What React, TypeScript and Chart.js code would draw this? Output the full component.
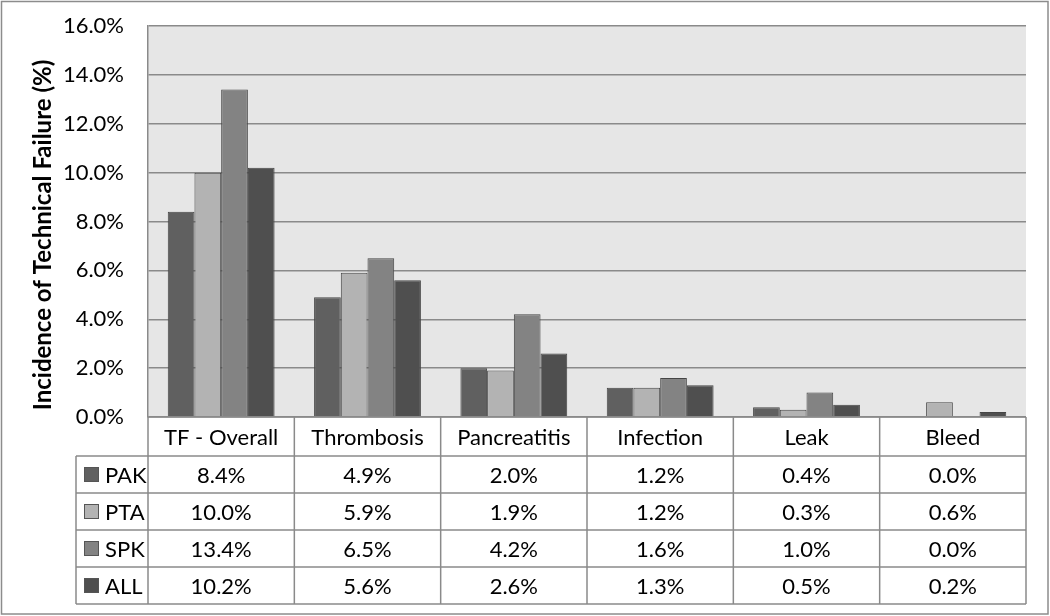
import React, { useEffect, useRef } from 'react';
import { Chart, registerables } from 'chart.js';

Chart.register(...registerables);

const categories = ['TF - Overall', 'Thrombosis', 'Pancreatitis', 'Infection', 'Leak', 'Bleed'];
const seriesNames = ['PAK', 'PTA', 'SPK', 'ALL'];
const pakValues = [8.4, 4.9, 2.0, 1.2, 0.4, 0.0];
const ptaValues = [10.0, 5.9, 1.9, 1.2, 0.3, 0.6];
const spkValues = [13.4, 6.5, 4.2, 1.6, 1.0, 0.0];
const allValues = [10.2, 5.6, 2.6, 1.3, 0.5, 0.2];
const seriesColors = ['#606060', '#b3b3b3', '#838383', '#4f4f4f'];
const yAxisTitle = 'Incidence of Technical Failure (%)';
const yMin = 0;
const yMax = 16;
const yStep = 2;

const FONT = 'Lato, "Open Sans", sans-serif';
const LINE = '#8a8a8a';

const seriesValues = [pakValues, ptaValues, spkValues, allValues];

const tablePlugin = {
  id: 'dataTable',
  beforeDraw(chart: any) {
    const { ctx, chartArea } = chart;
    ctx.save();
    ctx.fillStyle = '#e6e6e6';
    ctx.fillRect(chartArea.left, chartArea.top, chartArea.right - chartArea.left, chartArea.bottom - chartArea.top);
    ctx.restore();
  },
  afterDraw(chart: any) {
    const { ctx, chartArea } = chart;
    const xScale = chart.scales.x;
    const n = categories.length;
    const colW = (chartArea.right - chartArea.left) / n;
    const top = chartArea.bottom;
    const headerH = 39;
    const rowH = 37;
    const legendLeft = 76;
    const rows = seriesNames.length;
    const bottom = top + headerH + rowH * rows;

    ctx.save();
    ctx.strokeStyle = LINE;
    ctx.lineWidth = 1.5;
    ctx.beginPath();
    ctx.moveTo(chartArea.left, top);
    ctx.lineTo(chartArea.right, top);
    for (let r = 0; r <= rows; r++) {
      const y = top + headerH + r * rowH;
      ctx.moveTo(legendLeft, y);
      ctx.lineTo(chartArea.right, y);
    }
    ctx.moveTo(legendLeft, top + headerH);
    ctx.lineTo(legendLeft, bottom);
    for (let c = 0; c <= n; c++) {
      const x = chartArea.left + c * colW;
      ctx.moveTo(x, top);
      ctx.lineTo(x, bottom);
    }
    ctx.stroke();

    ctx.fillStyle = '#000';
    ctx.font = `22px ${FONT}`;
    ctx.textBaseline = 'middle';
    ctx.textAlign = 'center';
    categories.forEach((cat, i) => {
      const cx = xScale.getPixelForValue(i);
      ctx.fillText(cat, cx, top + headerH / 2 + 1);
    });
    seriesNames.forEach((name, r) => {
      const cy = top + headerH + r * rowH + rowH / 2;
      ctx.fillStyle = seriesColors[r];
      ctx.fillRect(84, cy - 7.5, 15, 15);
      ctx.strokeStyle = '#555';
      ctx.lineWidth = 1;
      ctx.strokeRect(84.5, cy - 7, 14, 14);
      ctx.fillStyle = '#000';
      ctx.textAlign = 'left';
      ctx.fillText(name, 105, cy + 1);
      ctx.textAlign = 'center';
      seriesValues[r].forEach((v, i) => {
        const cx = xScale.getPixelForValue(i);
        ctx.fillText(v.toFixed(1) + '%', cx, cy + 1);
      });
    });

    // y-axis title
    ctx.save();
    ctx.translate(43, 235);
    ctx.rotate(-Math.PI / 2);
    ctx.font = `bold 24px ${FONT}`;
    ctx.fillStyle = '#000';
    ctx.textAlign = 'center';
    ctx.textBaseline = 'middle';
    ctx.fillText(yAxisTitle, 0, 0);
    ctx.restore();

    ctx.strokeStyle = '#8c8c8c';
    ctx.lineWidth = 1.5;
    ctx.strokeRect(1.5, 1.5, chart.width - 3.5, chart.height - 3.5);
    ctx.restore();
  },
};

export default function App() {
  const canvasRef = useRef<HTMLCanvasElement | null>(null);

  useEffect(() => {
    document.body.style.margin = '0';
    const canvas = canvasRef.current;
    if (!canvas) return;
    const chart = new Chart(canvas, {
      type: 'bar',
      data: {
        labels: categories,
        datasets: seriesNames.map((name, i) => ({
          label: name,
          data: seriesValues[i],
          backgroundColor: seriesColors[i],
          borderColor: '#454545',
          borderWidth: (c: any) => (c.raw === 0 ? 0 : 1),
          categoryPercentage: 0.73,
          barPercentage: 1,
        })),
      },
      options: {
        responsive: true,
        maintainAspectRatio: false,
        animation: false,
        layout: { padding: { left: 0, right: 24, top: 26, bottom: 199 } },
        plugins: {
          legend: { display: false },
          tooltip: { enabled: false },
        },
        scales: {
          x: {
            display: false,
          },
          y: {
            min: yMin,
            max: yMax,
            ticks: {
              stepSize: yStep,
              color: '#000',
              font: { family: FONT, size: 22 },
              padding: 24,
              callback: (v: any) => Number(v).toFixed(1) + '%',
            },
            grid: { color: LINE, lineWidth: 1.5, drawTicks: false },
            border: { color: LINE, width: 1.5 },
            title: { display: false },
            afterFit: (scale: any) => {
              scale.width = 148;
              scale.paddingTop = 0;
              scale.paddingBottom = 0;
            },
          },
        },
      },
      plugins: [tablePlugin],
    });
    return () => chart.destroy();
  }, []);

  return (
    <div style={{ position: 'absolute', left: 0, top: 0, width: 1050, height: 616, background: '#fff' }}>
      <canvas ref={canvasRef} />
    </div>
  );
}
